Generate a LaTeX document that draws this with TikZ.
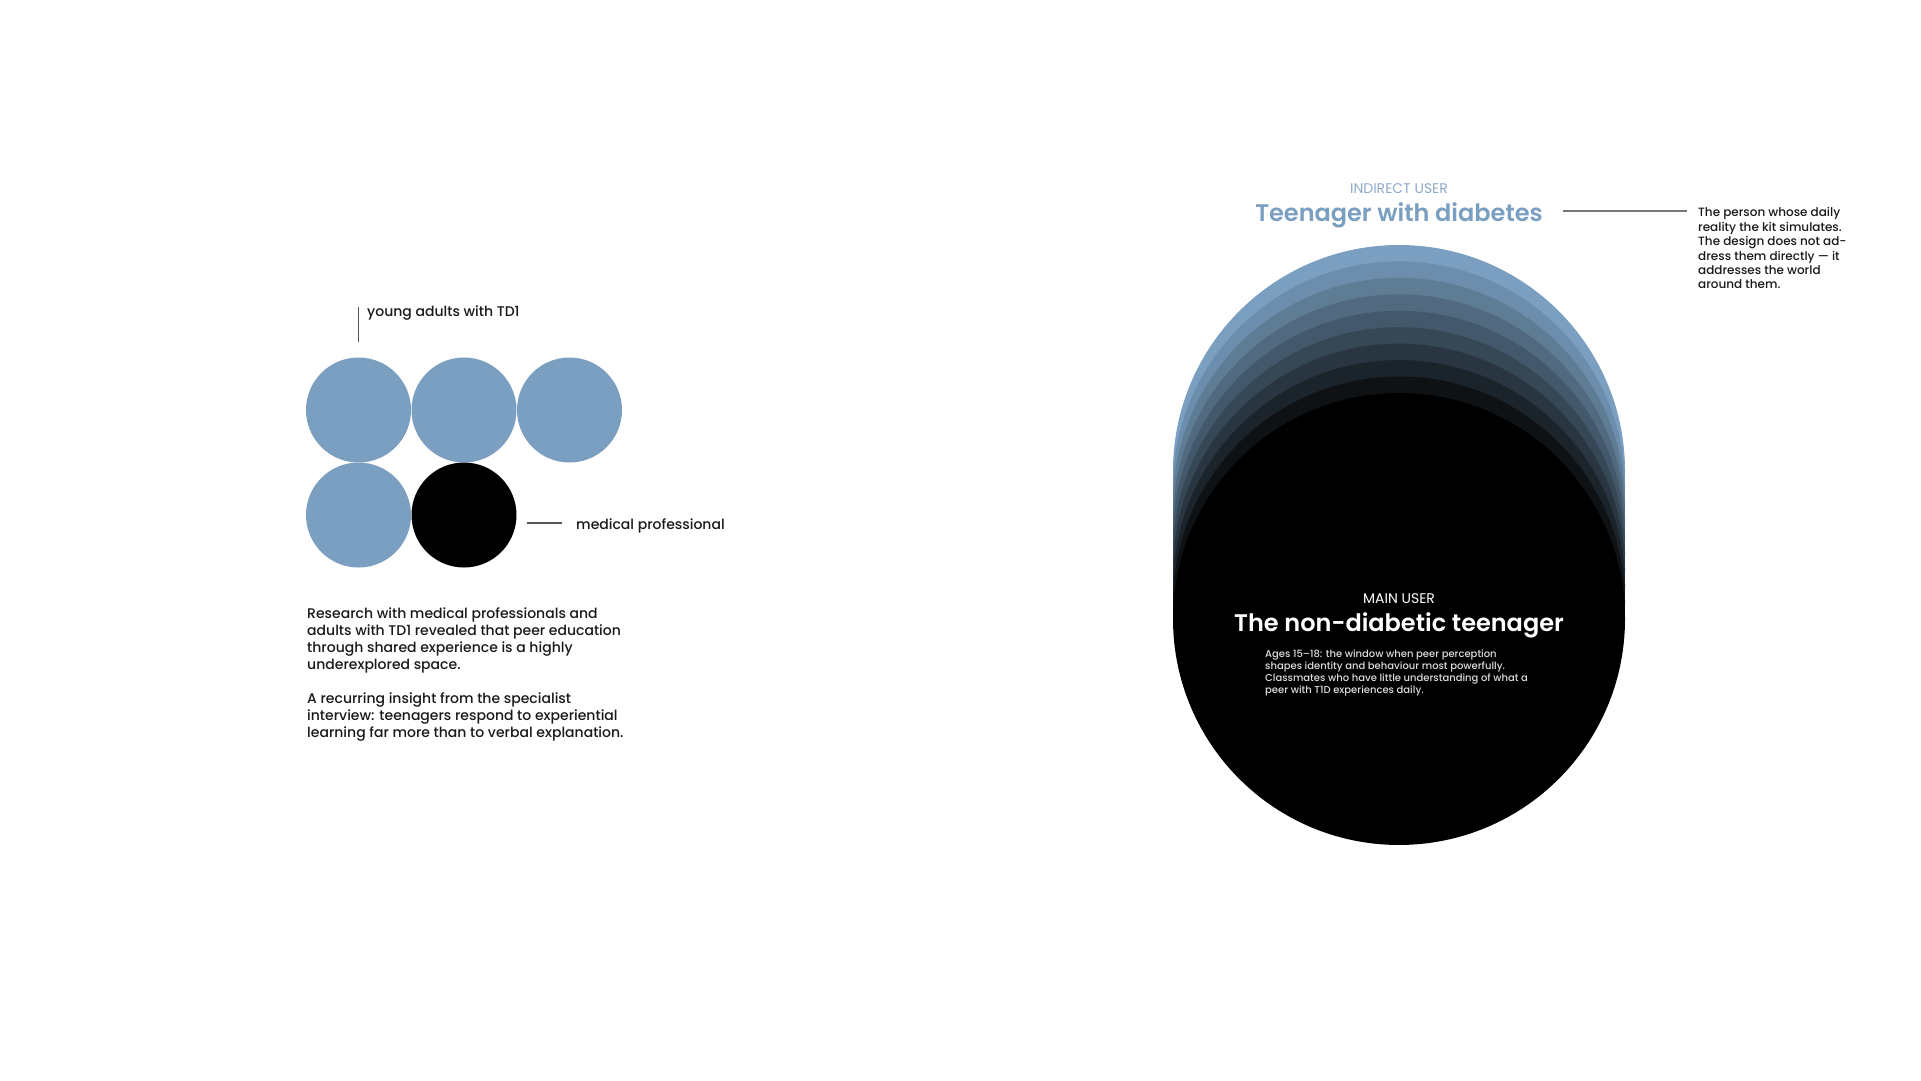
\documentclass[tikz,border=0pt]{standalone}
\usepackage{fontspec}
\setmainfont{Poppins Medium}
\newfontfamily\popreg{Poppins}
\newfontfamily\popsemi{Poppins SemiBold}
\definecolor{dblue}{HTML}{7A9FC0}
\definecolor{lblue}{HTML}{8DAACA}
\definecolor{ink}{HTML}{1A1A1A}
\definecolor{rule}{HTML}{555555}
\definecolor{soft}{HTML}{DDDDDD}
\tikzset{
  dot/.style={circle,fill=dblue,minimum size=105pt,inner sep=0},
  dotk/.style={circle,fill=black,minimum size=105pt,inner sep=0},
  leader/.style={draw=rule,line width=1.3pt},
  label/.style={inner sep=0,text=ink,font=\fontsize{14}{17}\selectfont},
  para/.style={inner sep=0,text=ink,align=left,font=\fontsize{14}{17}\selectfont},
}
\begin{document}
\begin{tikzpicture}[x=1pt,y=-1pt]
\useasboundingbox[fill=white] (0,0) rectangle (1921,1080);
% left cluster
\node[dot] (c1) at (358.5,410) {};
\node[dot] (c2) at (464,410) {};
\node[dot] (c3) at (569.5,410) {};
\node[dot] (c4) at (358.5,515) {};
\node[dotk] (c5) at (464,515) {};
\coordinate (ya1) at (358.5,307);
\coordinate (ya2) at (358.5,342);
\draw[leader] (ya1) -- (ya2);
\node[label,anchor=west] (young) at (367,313.5) {young adults with TD1};
\coordinate (mp1) at (527,523);
\coordinate (mp2) at (562,523);
\draw[leader] (mp1) -- (mp2);
\node[label,anchor=west] (med) at (576,525.5) {medical professional};
\node[para,anchor=north west] (p1) at (307,607.5) {Research with medical professionals and\\adults with TD1 revealed that peer education\\through shared experience is a highly\\underexplored space.};
\node[para,anchor=north west] (p2) at (307,692.5) {A recurring insight from the specialist\\interview: teenagers respond to experiential\\learning far more than to verbal explanation.};
% right layered disc
\foreach \i in {0,...,9}{
  \pgfmathsetmacro\pct{100-100*\i/9}
  \fill[dblue!\pct!black] (1399,471+16.44*\i) circle (226);
}
\node[inner sep=0,text=lblue,font=\popreg\fontsize{14}{16}\selectfont] (ind) at (1399,189) {INDIRECT USER};
\node[inner sep=0,text=dblue,font=\popsemi\fontsize{24}{28}\selectfont] (title1) at (1399,215.5) {Teenager with diabetes};
\coordinate (tl1) at (1563,211);
\coordinate (tl2) at (1687,211);
\draw[leader,draw=rule!80] (tl1) -- (tl2);
\node[inner sep=0,text=ink,align=left,anchor=north west,font=\fontsize{12}{14.4}\selectfont] (side) at (1698,207.5) {The person whose daily\\reality the kit simulates.\\The design does not ad-\\dress them directly — it\\addresses the world\\around them.};
\node[inner sep=0,text=white,font=\popreg\fontsize{14}{16}\selectfont] (main) at (1399,599) {MAIN USER};
\node[inner sep=0,text=white,font=\popsemi\fontsize{24}{30}\selectfont] (title2) at (1399,625.5) {The non-diabetic teenager};
\node[inner sep=0,text=soft,align=left,anchor=north west,font=\fontsize{10}{12}\selectfont] (desc) at (1265,650) {Ages 15–18: the window when peer perception\\shapes identity and behaviour most powerfully.\\Classmates who have little understanding of what a\\peer with T1D experiences daily.};
\end{tikzpicture}
\end{document}
